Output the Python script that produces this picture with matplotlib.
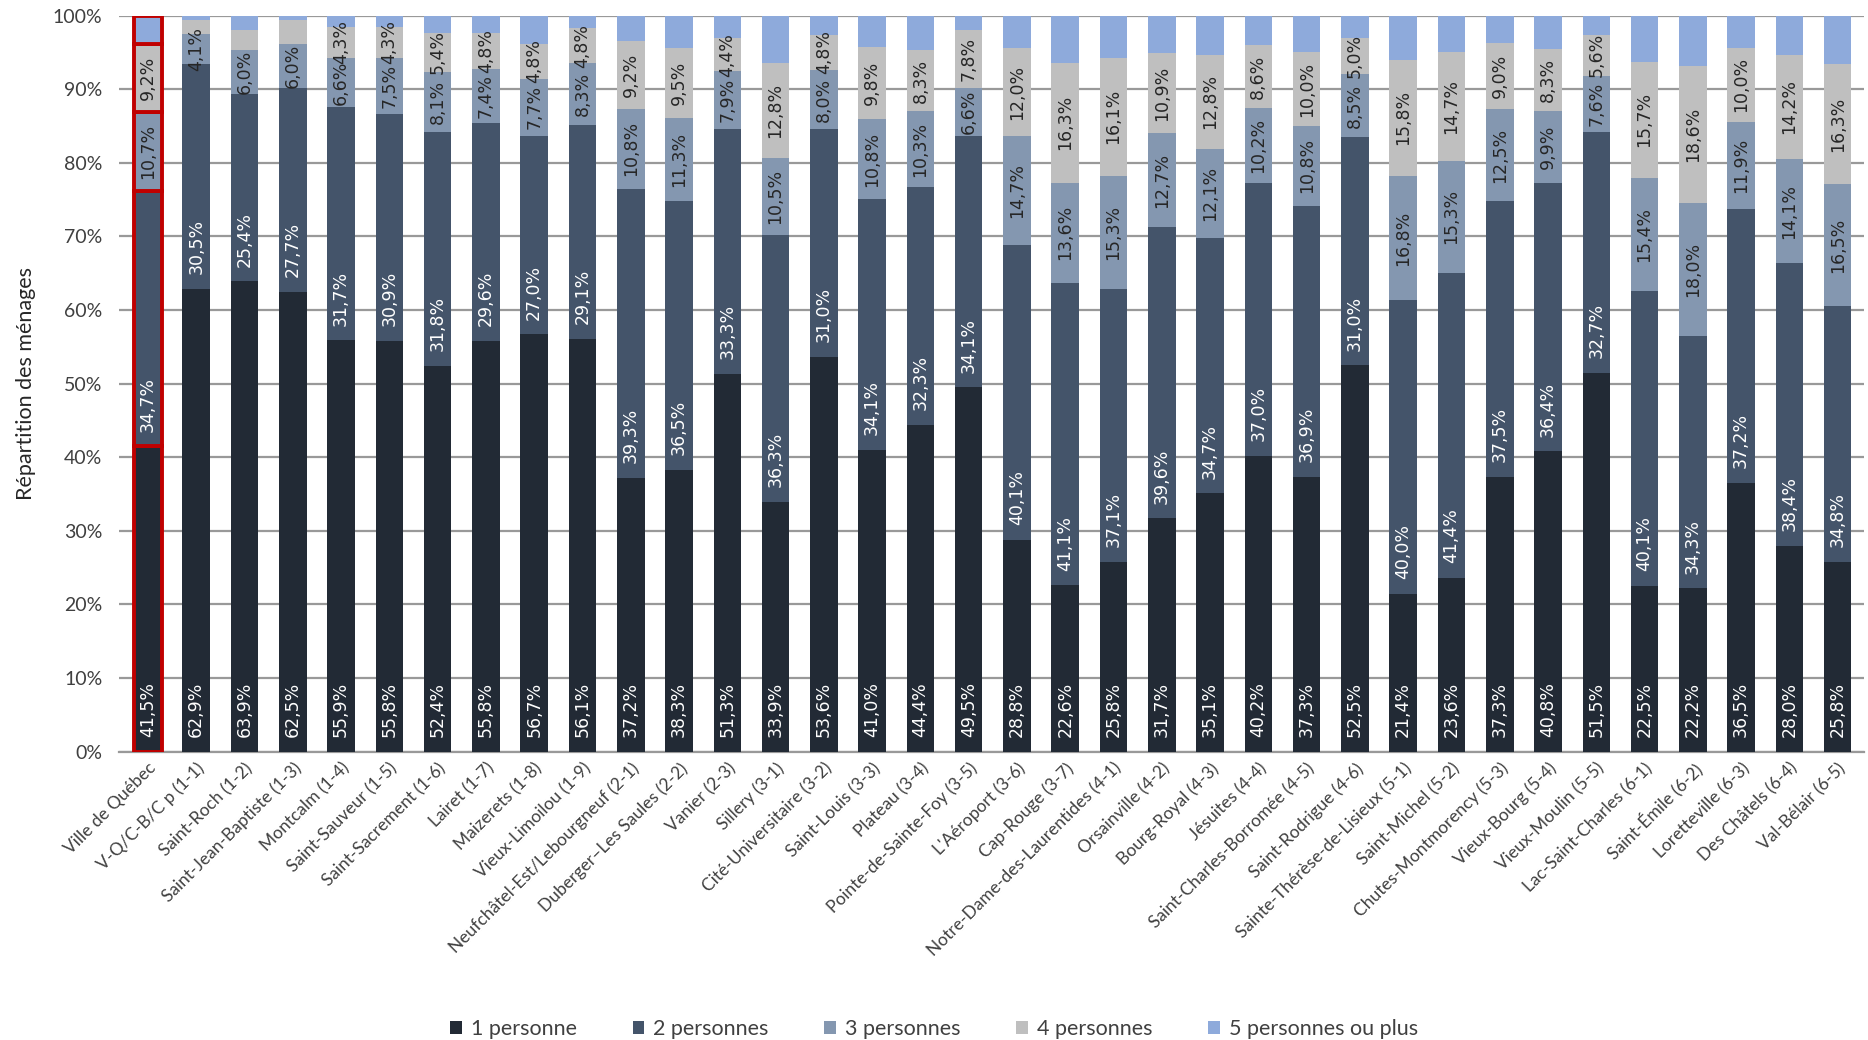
import matplotlib
matplotlib.use("Agg")
import matplotlib.pyplot as plt
import numpy as np

categories = [
    "Ville de Québec", "V-Q/C-B/C p (1-1)", "Saint-Roch (1-2)", "Saint-Jean-Baptiste (1-3)",
    "Montcalm (1-4)", "Saint-Sauveur (1-5)", "Saint-Sacrement (1-6)", "Lairet (1-7)",
    "Maizerets (1-8)", "Vieux-Limoilou (1-9)", "Neufchâtel-Est/Lebourgneuf (2-1)",
    "Duberger–Les Saules (2-2)", "Vanier (2-3)", "Sillery (3-1)", "Cité-Universitaire (3-2)",
    "Saint-Louis (3-3)", "Plateau (3-4)", "Pointe-de-Sainte-Foy (3-5)", "L'Aéroport (3-6)",
    "Cap-Rouge (3-7)", "Notre-Dame-des-Laurentides (4-1)", "Orsainville (4-2)",
    "Bourg-Royal (4-3)", "Jésuites (4-4)", "Saint-Charles-Borromée (4-5)",
    "Saint-Rodrigue (4-6)", "Sainte-Thérèse-de-Lisieux (5-1)", "Saint-Michel (5-2)",
    "Chutes-Montmorency (5-3)", "Vieux-Bourg (5-4)", "Vieux-Moulin (5-5)",
    "Lac-Saint-Charles (6-1)", "Saint-Émile (6-2)", "Loretteville (6-3)",
    "Des Châtels (6-4)", "Val-Bélair (6-5)",
]

p1 = [41.5, 62.9, 63.9, 62.5, 55.9, 55.8, 52.4, 55.8, 56.7, 56.1, 37.2, 38.3, 51.3, 33.9,
      53.6, 41.0, 44.4, 49.5, 28.8, 22.6, 25.8, 31.7, 35.1, 40.2, 37.3, 52.5, 21.4, 23.6,
      37.3, 40.8, 51.5, 22.5, 22.2, 36.5, 28.0, 25.8]
p2 = [34.7, 30.5, 25.4, 27.7, 31.7, 30.9, 31.8, 29.6, 27.0, 29.1, 39.3, 36.5, 33.3, 36.3,
      31.0, 34.1, 32.3, 34.1, 40.1, 41.1, 37.1, 39.6, 34.7, 37.0, 36.9, 31.0, 40.0, 41.4,
      37.5, 36.4, 32.7, 40.1, 34.3, 37.2, 38.4, 34.8]
p3 = [10.7, 4.1, 6.0, 6.0, 6.6, 7.5, 8.1, 7.4, 7.7, 8.3, 10.8, 11.3, 7.9, 10.5,
      8.0, 10.8, 10.3, 6.6, 14.7, 13.6, 15.3, 12.7, 12.1, 10.2, 10.8, 8.5, 16.8, 15.3,
      12.5, 9.9, 7.6, 15.4, 18.0, 11.9, 14.1, 16.5]
p4 = [9.2, 1.9, 2.8, 3.2, 4.3, 4.3, 5.4, 4.8, 4.8, 4.8, 9.2, 9.5, 4.4, 12.8,
      4.8, 9.8, 8.3, 7.8, 12.0, 16.3, 16.1, 10.9, 12.8, 8.6, 10.0, 5.0, 15.8, 14.7,
      9.0, 8.3, 5.6, 15.7, 18.6, 10.0, 14.2, 16.3]
p5 = [3.9, 0.6, 1.9, 0.6, 1.5, 1.5, 2.3, 2.4, 3.8, 1.7, 3.5, 4.4, 3.1, 6.5,
      2.6, 4.3, 4.7, 2.0, 4.4, 6.4, 5.7, 5.1, 5.3, 4.0, 5.0, 3.0, 6.0, 5.0,
      3.7, 4.6, 2.6, 6.3, 6.9, 4.4, 5.3, 6.6]

series_names = ["1 personne", "2 personnes", "3 personnes", "4 personnes", "5 personnes ou plus"]
colors = ["#222a35", "#44546a", "#8497b0", "#bfbfbf", "#8eaadb"]
label_colors = ["white", "white", "#262626", "#262626", None]
yticks = [0, 10, 20, 30, 40, 50, 60, 70, 80, 90, 100]

series = [p1, p2, p3, p4, p5]

fig = plt.figure(figsize=(18.68, 10.40), dpi=100)
ax = fig.add_axes([0.0637, 0.2772, 0.9343, 0.7078])

x = np.arange(len(categories))
width = 0.57
bottom = np.zeros(len(categories))
for si, (vals, col) in enumerate(zip(series, colors)):
    vals = np.array(vals)
    bars = ax.bar(x, vals, width, bottom=bottom, color=col, label=series_names[si],
                  zorder=3, linewidth=0)
    bars[0].set_edgecolor("#c00000")
    bars[0].set_linewidth(2.8)
    if label_colors[si] is not None:
        for i, v in enumerate(vals):
            if si == 3 and v < 4.0:
                continue
            txt = f"{v:.1f}%".replace(".", ",")
            if si < 2:
                y = bottom[i] + 2.0
                va = "bottom"
            else:
                y = bottom[i] + v / 2
                va = "center"
            ax.text(x[i], y, txt, rotation=90, ha="center", va=va,
                    fontsize=12.5, color=label_colors[si], family="DejaVu Sans", zorder=4)
    bottom += vals

ax.set_xlim(-0.6, len(categories) - 0.45)
ax.set_ylim(0, 100)
ax.set_yticks(yticks)
ax.set_yticklabels([f"{t}%" for t in yticks], family="Lato", fontsize=14, color="#404040")
ax.yaxis.grid(True, color="#999999", linewidth=1.6, zorder=0)
ax.set_axisbelow(True)
for s in ["top", "right", "left"]:
    ax.spines[s].set_visible(False)
ax.spines["bottom"].set_color("#999999")
ax.spines["bottom"].set_linewidth(1.6)
ax.tick_params(axis="both", length=0)
ax.tick_params(axis="y", pad=12)

ax.set_xticks(x)
ax.set_xticklabels(categories, rotation=45, ha="right", rotation_mode="anchor",
                   family="Lato", fontsize=12.5, color="#404040")
ax.tick_params(axis="x", pad=6)

ax.set_ylabel("Répartition des ménages", family="Lato", fontsize=15.5, color="#262626",
              labelpad=12)

handles, labels = ax.get_legend_handles_labels()
leg = fig.legend(handles, labels, loc="lower center", bbox_to_anchor=(0.5, -0.018),
                 ncol=5, frameon=False, prop={"family": "Lato", "size": 15.5},
                 handlelength=0.55, handleheight=0.55, handletextpad=0.4, columnspacing=2.6)
for t in leg.get_texts():
    t.set_color("#404040")
for p in leg.get_patches():
    p.set_edgecolor("none")
    p.set_linewidth(0)

fig.savefig("out.png", dpi=100)
